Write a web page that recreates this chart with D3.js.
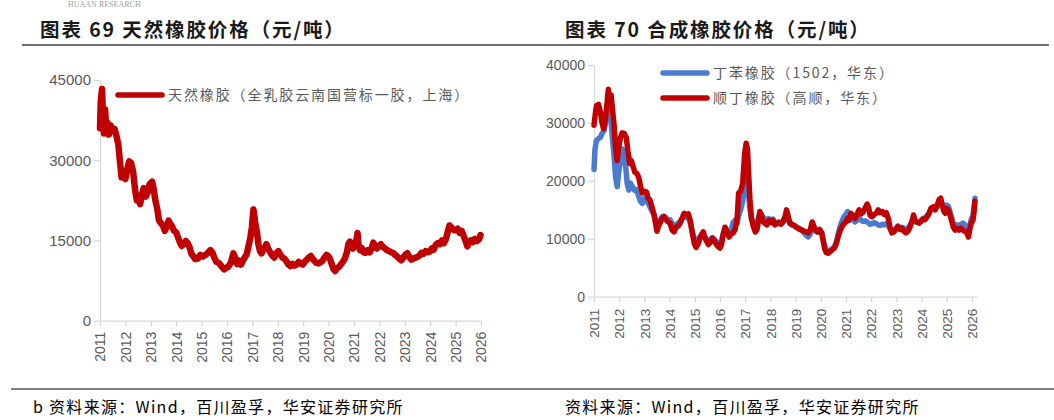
<!DOCTYPE html>
<html><head><meta charset="utf-8">
<script src="https://cdn.jsdelivr.net/npm/d3@7"></script>
<style>
html,body{margin:0;padding:0;background:#fff;}
svg{display:block;}
</style></head>
<body>
<svg id="c" width="1054" height="420"></svg>
<script>
// ---------- DATA ----------
const yearTicks = [2011,2012,2013,2014,2015,2016,2017,2018,2019,2020,2021,2022,2023,2024,2025,2026];
const leftYTicks = [0,15000,30000,45000];
const rightYTicks = [0,10000,20000,30000,40000];
const leftTitle = "图表 69 天然橡胶价格（元/吨）";
const rightTitle = "图表 70 合成橡胶价格（元/吨）";
const leftSeriesName = "天然橡胶（全乳胶云南国营标一胶，上海）";
const sbrName = "丁苯橡胶（1502，华东）";
const brName = "顺丁橡胶（高顺，华东）";
const leftSource = "b 资料来源：Wind，百川盈孚，华安证券研究所";
const rightSource = "资料来源：Wind，百川盈孚，华安证券研究所";

// natural rubber (year, yuan/ton)
const natural = [
[2011.00,36000],[2011.03,41000],[2011.08,43300],[2011.12,38000],[2011.16,35000],[2011.20,39500],[2011.25,35500],[2011.30,37000],[2011.35,34800],[2011.42,36500],[2011.50,35500],[2011.58,35800],[2011.65,34500],[2011.72,33000],[2011.78,30000],[2011.85,26800],[2011.92,27000],
[2012.00,26500],[2012.08,28500],[2012.15,29800],[2012.22,29500],[2012.30,28000],[2012.38,24500],[2012.45,22500],[2012.52,23000],[2012.58,21800],[2012.65,23500],[2012.72,24800],[2012.80,23200],[2012.88,24000],[2012.95,25500],
[2013.05,26000],[2013.10,25000],[2013.18,22500],[2013.25,21000],[2013.32,18800],[2013.40,18200],[2013.48,17800],[2013.55,16800],[2013.62,17500],[2013.70,18700],[2013.78,18000],[2013.85,17500],[2013.92,16800],
[2014.00,16500],[2014.08,15500],[2014.15,14600],[2014.22,14000],[2014.30,14300],[2014.38,14900],[2014.45,14500],[2014.52,13800],[2014.60,12500],[2014.68,12000],[2014.75,11500],[2014.85,11600],[2014.95,12300],
[2015.05,12000],[2015.15,12300],[2015.25,12700],[2015.35,13200],[2015.42,12800],[2015.50,11800],[2015.58,11000],[2015.68,10800],[2015.78,10200],[2015.88,9600],[2015.95,9800],
[2016.05,10100],[2016.15,10800],[2016.25,12600],[2016.32,11800],[2016.40,10600],[2016.48,11200],[2016.55,10500],[2016.62,11200],[2016.70,11800],[2016.78,12500],[2016.85,14000],[2016.92,15500],[2016.98,17500],
[2017.04,20800],[2017.08,19500],[2017.12,18000],[2017.18,16500],[2017.24,14200],[2017.30,13000],[2017.36,12600],[2017.42,13200],[2017.50,13800],[2017.55,14300],[2017.62,13500],[2017.70,12800],[2017.78,12200],[2017.86,11800],[2017.94,12600],
[2018.02,13000],[2018.10,12400],[2018.18,11800],[2018.26,11600],[2018.34,11100],[2018.42,10500],[2018.50,10200],[2018.58,10600],[2018.66,10300],[2018.74,10500],[2018.82,11000],[2018.90,10700],[2018.98,10500],
[2019.06,11000],[2019.14,11400],[2019.22,11800],[2019.30,12100],[2019.36,11600],[2019.44,11200],[2019.52,10800],[2019.60,10700],[2019.68,10900],[2019.76,11200],[2019.84,11800],[2019.92,12300],
[2020.00,12000],[2020.06,11500],[2020.12,10600],[2020.20,9600],[2020.26,9300],[2020.32,9800],[2020.40,10000],[2020.48,10500],[2020.56,11000],[2020.64,11600],[2020.72,12800],[2020.78,14300],[2020.84,14800],[2020.90,13800],[2020.96,13500],
[2021.04,14000],[2021.10,15200],[2021.14,16400],[2021.18,14000],[2021.24,13200],[2021.30,13600],[2021.38,12800],[2021.46,12700],[2021.54,13200],[2021.62,12800],[2021.70,13600],[2021.76,14600],[2021.82,14000],[2021.90,13500],[2021.98,14000],
[2022.06,14300],[2022.14,13800],[2022.22,13500],[2022.30,13200],[2022.38,13000],[2022.46,12800],[2022.54,12700],[2022.62,12300],[2022.70,12000],[2022.78,11600],[2022.86,11300],[2022.94,11800],
[2023.02,12300],[2023.10,12600],[2023.18,11900],[2023.26,11400],[2023.34,11600],[2023.42,11800],[2023.50,11900],[2023.58,12200],[2023.66,12700],[2023.74,12500],[2023.82,13000],[2023.90,12800],[2023.98,12900],
[2024.06,13500],[2024.14,13300],[2024.22,14200],[2024.30,14500],[2024.38,14300],[2024.46,15000],[2024.54,14500],[2024.62,15300],[2024.70,16800],[2024.76,17800],[2024.84,17400],[2024.92,17000],
[2025.00,16900],[2025.08,17200],[2025.16,16400],[2025.24,16800],[2025.32,15800],[2025.40,14800],[2025.46,13900],[2025.52,14500],[2025.60,15000],[2025.68,14700],[2025.76,15300],[2025.84,14900],[2025.92,15200],[2025.98,16000]
];

// styrene-butadiene rubber 1502 (blue)
const sbr = [
[2011.00,22000],[2011.04,25500],[2011.10,27000],[2011.18,27300],[2011.25,27500],[2011.32,28200],[2011.40,28700],[2011.48,30500],[2011.55,32200],[2011.62,31000],[2011.68,30000],[2011.74,27000],[2011.80,24000],[2011.86,20500],[2011.92,19000],[2011.98,21500],
[2012.05,23500],[2012.12,25500],[2012.20,24500],[2012.26,22400],[2012.32,19500],[2012.38,18400],[2012.45,19600],[2012.52,19000],[2012.60,18400],[2012.68,18500],[2012.76,17500],[2012.84,16500],[2012.92,16100],
[2013.00,17000],[2013.08,16800],[2013.15,16200],[2013.22,15500],[2013.30,14800],[2013.38,14200],[2013.45,13000],[2013.50,12200],[2013.56,12800],[2013.63,13200],[2013.70,13800],[2013.78,13900],[2013.86,13600],[2013.94,13200],
[2014.02,13300],[2014.10,12600],[2014.18,12200],[2014.26,12500],[2014.34,12700],[2014.42,13000],[2014.50,13500],[2014.58,13800],[2014.66,13700],[2014.74,13600],[2014.82,12800],[2014.90,11300],[2014.98,10000],
[2015.05,9500],[2015.12,9800],[2015.20,10300],[2015.28,10800],[2015.34,10900],[2015.40,10300],[2015.48,9800],[2015.54,9600],[2015.62,9900],[2015.70,10200],[2015.78,9900],[2015.86,9500],[2015.94,9200],
[2016.00,9200],[2016.06,9600],[2016.12,10800],[2016.20,11800],[2016.28,11400],[2016.36,11000],[2016.44,11500],[2016.52,12800],[2016.60,13200],[2016.68,12600],[2016.74,14000],[2016.82,15000],[2016.90,16500],[2016.98,19000],
[2017.04,20700],[2017.09,20000],[2017.14,17500],[2017.19,15000],[2017.25,13500],[2017.32,12800],[2017.40,12300],[2017.46,12500],[2017.52,13500],[2017.58,14300],[2017.64,14000],[2017.70,13800],[2017.78,13400],[2017.86,13300],[2017.94,13500],
[2018.02,13200],[2018.10,13400],[2018.18,12900],[2018.26,12800],[2018.34,12900],[2018.42,12600],[2018.50,12800],[2018.58,13200],[2018.64,14000],[2018.70,13400],[2018.78,12800],[2018.86,12500],[2018.94,12300],
[2019.02,12100],[2019.10,11900],[2019.18,11700],[2019.26,11400],[2019.34,11000],[2019.42,10600],[2019.50,10300],[2019.58,10800],[2019.66,11800],[2019.72,11600],[2019.80,11300],[2019.88,11100],[2019.96,11300],
[2020.04,10900],[2020.10,9800],[2020.16,8700],[2020.22,8000],[2020.30,7800],[2020.38,8000],[2020.46,8300],[2020.54,8600],[2020.62,9500],[2020.70,11000],[2020.78,12300],[2020.84,13000],[2020.92,13800],
[2021.00,14200],[2021.06,14700],[2021.12,14300],[2021.20,13800],[2021.28,13300],[2021.36,12900],[2021.44,13200],[2021.52,13600],[2021.60,13200],[2021.68,13000],[2021.76,13100],[2021.84,12900],[2021.90,12700],[2021.96,12500],
[2022.04,12600],[2022.12,12800],[2022.20,12600],[2022.28,12400],[2022.36,12300],[2022.44,12500],[2022.52,12400],[2022.60,12600],[2022.68,12300],[2022.74,11800],[2022.82,11300],[2022.90,11500],[2022.98,11800],
[2023.06,12200],[2023.14,11900],[2023.22,12000],[2023.30,11800],[2023.38,11600],[2023.46,11900],[2023.54,12300],[2023.62,12900],[2023.68,13400],[2023.74,13000],[2023.82,12800],[2023.90,12800],[2023.98,13200],
[2024.06,13500],[2024.14,13600],[2024.22,14000],[2024.30,14500],[2024.38,15200],[2024.46,15400],[2024.54,15200],[2024.62,15600],[2024.70,16400],[2024.76,16800],[2024.82,16000],[2024.88,15300],[2024.94,15500],
[2025.00,15800],[2025.06,15600],[2025.12,14800],[2025.20,13600],[2025.26,12600],[2025.33,12300],[2025.40,12400],[2025.48,12200],[2025.56,12500],[2025.64,12700],[2025.72,12400],[2025.80,11900],[2025.86,11400],[2025.92,12400],[2025.98,13500],
[2026.04,14000],[2026.08,15500],[2026.12,17000]
];

// butadiene rubber (red)
const br = [
[2011.00,29600],[2011.05,31500],[2011.10,33000],[2011.18,33200],[2011.25,32000],[2011.32,30000],[2011.38,29000],[2011.45,30500],[2011.52,33500],[2011.57,35800],[2011.62,34000],[2011.68,34800],[2011.74,32000],[2011.80,29500],[2011.86,25500],[2011.92,23500],[2011.98,25800],
[2012.05,27500],[2012.12,28300],[2012.20,28200],[2012.28,27500],[2012.35,25000],[2012.42,23000],[2012.48,23500],[2012.55,22500],[2012.62,21500],[2012.70,21300],[2012.78,20500],[2012.85,19000],[2012.92,17900],
[2013.00,18200],[2013.08,18100],[2013.15,17000],[2013.22,16700],[2013.30,15500],[2013.38,14200],[2013.45,12500],[2013.50,11300],[2013.56,12200],[2013.63,12800],[2013.70,13500],[2013.78,13800],[2013.86,13300],[2013.94,12900],
[2014.02,12700],[2014.10,11500],[2014.18,11200],[2014.26,12000],[2014.34,12200],[2014.42,12700],[2014.50,13600],[2014.58,14400],[2014.66,14200],[2014.74,14300],[2014.82,13200],[2014.90,11000],[2014.98,9200],
[2015.05,8500],[2015.12,9000],[2015.20,10000],[2015.28,10800],[2015.34,11200],[2015.40,10200],[2015.48,9500],[2015.54,9000],[2015.62,9400],[2015.70,10100],[2015.78,9600],[2015.86,9000],[2015.94,8600],
[2016.00,8400],[2016.06,9000],[2016.12,10500],[2016.20,12000],[2016.28,11200],[2016.36,10300],[2016.44,10800],[2016.52,11000],[2016.60,11600],[2016.68,13500],[2016.74,17900],[2016.82,18200],[2016.90,19500],[2016.98,24800],
[2017.04,26500],[2017.09,25500],[2017.14,21000],[2017.19,16700],[2017.25,13500],[2017.32,12200],[2017.40,11200],[2017.46,11500],[2017.52,12800],[2017.58,14700],[2017.64,14200],[2017.70,13000],[2017.78,12700],[2017.86,12400],[2017.94,13200],
[2018.02,12800],[2018.10,13200],[2018.18,12400],[2018.26,12600],[2018.34,12800],[2018.42,12500],[2018.50,13000],[2018.58,13800],[2018.64,15000],[2018.70,14000],[2018.78,12600],[2018.86,12400],[2018.94,12300],
[2019.02,12000],[2019.10,11800],[2019.18,11600],[2019.26,11500],[2019.34,11300],[2019.42,11200],[2019.50,11000],[2019.58,11500],[2019.66,12900],[2019.72,12200],[2019.80,11500],[2019.88,11200],[2019.96,11600],
[2020.04,11000],[2020.10,9500],[2020.16,8200],[2020.22,7600],[2020.30,7500],[2020.38,7800],[2020.46,8100],[2020.54,8400],[2020.62,9200],[2020.70,10500],[2020.78,11500],[2020.84,12100],[2020.92,12600],
[2021.00,12900],[2021.06,13500],[2021.12,13200],[2021.20,14400],[2021.28,14000],[2021.36,13500],[2021.44,14200],[2021.52,15000],[2021.60,14300],[2021.68,14600],[2021.76,15300],[2021.84,16000],[2021.90,15400],[2021.96,14000],
[2022.04,13800],[2022.12,14200],[2022.20,14400],[2022.28,15000],[2022.36,14500],[2022.44,14700],[2022.52,14200],[2022.60,14500],[2022.68,13500],[2022.74,12100],[2022.82,11000],[2022.90,11200],[2022.98,11600],
[2023.06,12100],[2023.14,11600],[2023.22,11800],[2023.30,11300],[2023.38,11000],[2023.46,11300],[2023.54,12000],[2023.62,13000],[2023.68,14100],[2023.74,13200],[2023.82,12900],[2023.90,12700],[2023.98,13000],
[2024.06,13400],[2024.14,13300],[2024.22,13800],[2024.30,14400],[2024.38,15300],[2024.46,15500],[2024.54,15000],[2024.62,15800],[2024.70,16800],[2024.76,17000],[2024.82,15800],[2024.88,14800],[2024.94,14400],
[2025.00,15200],[2025.06,15000],[2025.12,14200],[2025.20,13000],[2025.26,12000],[2025.33,11500],[2025.40,11800],[2025.48,11500],[2025.56,11800],[2025.64,11500],[2025.72,11300],[2025.80,11000],[2025.86,10300],[2025.92,11800],[2025.98,12800],
[2026.04,13200],[2026.08,14500],[2026.12,16500]
];

// ---------- DRAW ----------
const svg = d3.select("#c");
const CJK = "'Noto Sans CJK SC','Noto Sans',sans-serif";
const NUM = "'Liberation Sans',Arial,sans-serif";
const RED = "#c00000", BLUE = "#4a7bd0", GRAY_TXT = "#595959", AXIS = "#d9d9d9";

// header watermark, rules
svg.append("text").attr("x",68).attr("y",7).attr("font-family","'Liberation Serif',serif")
  .attr("font-size",8).attr("fill","#a0a0a0").text("HUAAN RESEARCH");
svg.append("line").attr("x1",22).attr("x2",1049).attr("y1",45).attr("y2",45)
  .attr("stroke","#404040").attr("stroke-width",1.6);
svg.append("line").attr("x1",11).attr("x2",1054).attr("y1",389).attr("y2",389)
  .attr("stroke","#7f7f7f").attr("stroke-width",1.8);

function title(x, t){
  svg.append("text").attr("x",x).attr("y",37).attr("font-family",CJK).attr("font-weight","bold")
    .attr("font-size",19.5).attr("letter-spacing","1.9px").attr("fill","#1a1a1a").text(t);
}
title(40, leftTitle);
title(565, rightTitle);

function source(x, t){
  svg.append("text").attr("x",x).attr("y",413).attr("font-family",CJK)
    .attr("font-size",16).attr("letter-spacing","1.3px").attr("fill","#000").text(t);
}
source(33, leftSource);
source(565, rightSource);

function panel(cfg){
  const x = d3.scaleLinear().domain(cfg.xDom).range(cfg.xRange);
  const y = d3.scaleLinear().domain(cfg.yDom).range(cfg.yRange);
  const g = svg.append("g");
  // y axis
  const ya = g.append("g").attr("transform",`translate(${cfg.xRange[0]},0)`)
    .call(d3.axisLeft(y).tickValues(cfg.yTicks).tickSize(6).tickSizeOuter(0).tickPadding(3).tickFormat(d3.format("d")));
  ya.select(".domain").attr("stroke",AXIS).attr("stroke-width",1.3);
  ya.selectAll(".tick line").attr("stroke",AXIS).attr("stroke-width",1.3);
  ya.selectAll("text").attr("font-family",NUM).attr("font-size",cfg.yFont).attr("fill",GRAY_TXT);
  // x axis
  const xa = g.append("g").attr("transform",`translate(0,${cfg.yRange[0]})`)
    .call(d3.axisBottom(x).tickValues(yearTicks).tickSize(6).tickSizeOuter(0).tickFormat(d3.format("d")));
  xa.select(".domain").attr("stroke",AXIS).attr("stroke-width",1.3);
  xa.selectAll(".tick line").attr("stroke",AXIS).attr("stroke-width",1.3);
  xa.selectAll("text").attr("font-family",NUM).attr("font-size",cfg.xFont).attr("fill",GRAY_TXT)
    .attr("transform","rotate(-90)").attr("x",-cfg.xLabelOff).attr("y",0).attr("dy","0.35em")
    .style("text-anchor","end");
  // lines
  const line = d3.line().x(d=>x(d[0])).y(d=>y(d[1])).curve(d3.curveLinear);
  cfg.series.forEach(s=>{
    g.append("path").datum(s.data).attr("d",line).attr("fill","none")
      .attr("stroke",s.color).attr("stroke-width",cfg.lw).attr("stroke-linejoin","round").attr("stroke-linecap","round");
  });
  // legend
  cfg.legend.forEach(l=>{
    g.append("line").attr("x1",l.x).attr("x2",l.x+44).attr("y1",l.y).attr("y2",l.y)
      .attr("stroke",l.color).attr("stroke-width",5.5).attr("stroke-linecap","round");
    g.append("text").attr("x",l.x+50).attr("y",l.y).attr("dy","0.35em").attr("font-family",CJK)
      .attr("font-size",14).attr("letter-spacing","1.9px").attr("fill",GRAY_TXT).text(l.name);
  });
}

panel({
  xDom:[2011,2026], xRange:[100,481],
  yDom:[0,45000], yRange:[320.7,80],
  yTicks:leftYTicks, yFont:15, xFont:14, xLabelOff:11, lw:6.5,
  series:[{data:natural,color:RED}],
  legend:[{x:118,y:95,color:RED,name:leftSeriesName}]
});

panel({
  xDom:[2011,2026.2], xRange:[594,977],
  yDom:[0,40000], yRange:[296.7,65],
  yTicks:rightYTicks, yFont:14, xFont:13.5, xLabelOff:12, lw:5.5,
  series:[{data:sbr,color:BLUE},{data:br,color:RED}],
  legend:[{x:663,y:73,color:BLUE,name:sbrName},{x:663,y:98,color:RED,name:brName}]
});
</script>
</body></html>
